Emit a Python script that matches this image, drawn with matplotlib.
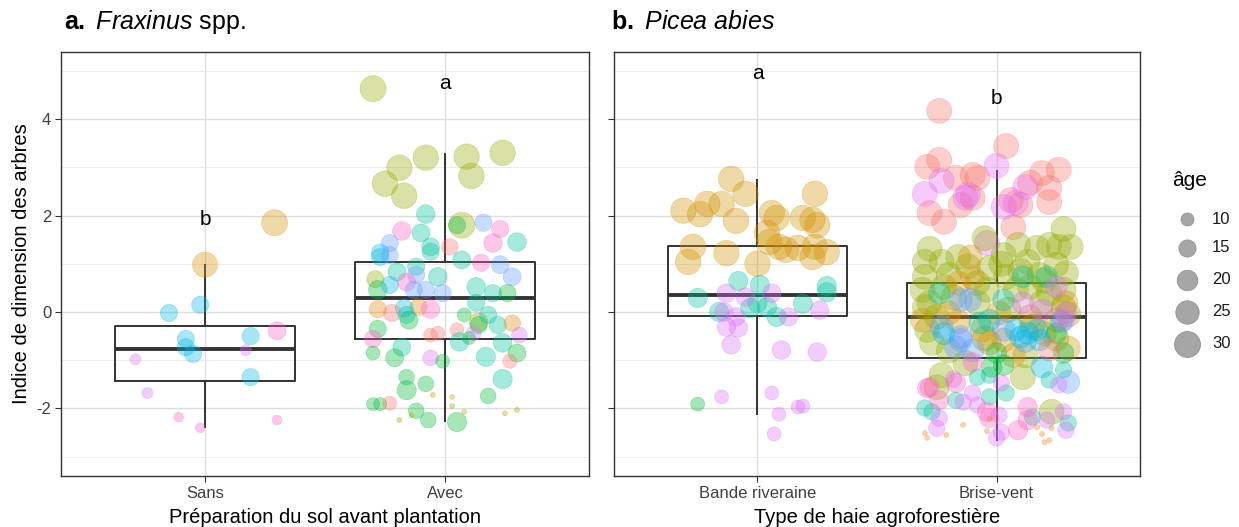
import numpy as np
import matplotlib
matplotlib.use("Agg")
import matplotlib.pyplot as plt

plt.rcParams['font.family'] = ['Liberation Sans', 'DejaVu Sans']
plt.rcParams['mathtext.fontset'] = 'custom'
plt.rcParams['mathtext.rm'] = 'Liberation Sans'
plt.rcParams['mathtext.it'] = 'Liberation Sans:italic'
plt.rcParams['mathtext.bf'] = 'Liberation Sans:bold'

# ---- colours of the groups (ggplot hue palette) ----
colors = {
    'red': '#F8766D', 'orange': '#E68613', 'gold': '#D39200', 'mustard': '#B79F00',
    'olive': '#93AA00', 'green': '#00BA38', 'teal': '#00C19F', 'cyan': '#00B9E3',
    'blue': '#619CFF', 'purple': '#DB72FB', 'magenta': '#E76BF3', 'pink': '#FF61C3',
}

# ---- panel a : Fraxinus spp. ----
cats_a = ['Sans', 'Avec']
sans_dx = [0.29, 0.00, -0.02, -0.15, -0.08, -0.08, -0.05, 0.19, 0.19, 0.30, 0.17, -0.29, -0.24, -0.11, -0.02, 0.30]
sans_y = [1.85, 0.98, 0.15, -0.02, -0.56, -0.73, -0.87, -0.50, -1.35, -0.39, -0.79, -0.98, -1.68, -2.18, -2.40, -2.24]
sans_age = [30, 28, 15, 15, 15, 15, 15, 15, 15, 16, 8, 8, 8, 7, 7, 7]
sans_grp = ['gold', 'gold'] + ['cyan'] * 7 + ['pink', 'purple', 'purple', 'purple', 'pink', 'pink', 'pink']

avec_dx = [-0.30, -0.08, 0.09, 0.24, -0.19, 0.11, -0.25, -0.17, 0.07,
           -0.08, 0.05, 0.16, 0.23, -0.18, -0.10, 0.20, 0.30, -0.23, 0.02, -0.06,
           -0.27, -0.27, -0.23, -0.06, 0.07, 0.15, 0.23, 0.28, -0.20, -0.29,
           -0.12, -0.12, -0.03, -0.16, -0.28, -0.23, -0.13, -0.08, -0.01, 0.13,
           0.20, 0.26, 0.13, -0.28, -0.11, -0.06, -0.17, -0.22, -0.15, -0.16,
           0.08, 0.14, 0.14, 0.18, 0.22, 0.28, -0.28, -0.30, -0.06, -0.03,
           0.05, 0.12, 0.31, 0.06, 0.24, 0.10, -0.18, -0.30, -0.21, -0.06,
           -0.01, 0.17, 0.30, 0.27, -0.16, -0.08, -0.16, 0.24, 0.18, -0.30,
           -0.27, -0.23, -0.12, -0.07, 0.05,
           -0.05, 0.03, 0.03, 0.08, -0.14, -0.19, 0.25, 0.30]
avec_y = [4.63, 3.20, 3.22, 3.30, 2.99, 2.82, 2.66, 2.41, 1.80,
          2.03, 1.80, 1.85, 1.72, 1.68, 1.64, 1.43, 1.45, 1.43, 1.35, 1.35,
          1.22, 1.14, 1.18, 1.25, 1.08, 1.02, 0.98, 0.73, 0.83, 0.68,
          0.94, 0.77, 0.73, 0.62, 0.46, 0.56, 0.46, 0.46, 0.39, 0.52,
          0.39, 0.39, 0.19, 0.06, 0.10, 0.06, 0.08, -0.02, -0.17, -0.06,
          -0.06, -0.21, -0.27, -0.06, -0.27, -0.23, -0.35, -0.56, -0.48, -0.44,
          -0.37, -0.44, -0.48, -0.62, -0.64, -0.54, -0.73, -0.85, -0.95, -0.95,
          -1.02, -0.93, -0.85, -1.02, -1.35, -1.49, -1.62, -1.39, -1.74, -1.91,
          -1.91, -1.89, -2.05, -2.24, -2.28,
          -1.72, -1.76, -1.95, -2.07, -2.14, -2.24, -2.10, -2.03]
avec_age = [30, 29, 29, 29, 29, 29, 29, 29, 30,
            17, 15, 15, 15, 17, 16, 17, 17, 15, 14, 16,
            16, 15, 15, 15, 16, 15, 16, 16, 16, 15,
            15, 15, 17, 16, 17, 15, 15, 15, 15, 17,
            15, 15, 15, 15, 15, 17, 16, 15, 16, 15,
            11, 17, 15, 15, 15, 14, 15, 15, 11, 11,
            11, 12, 13, 17, 17, 10, 16, 11, 16, 13,
            11, 18, 16, 11, 13, 13, 18, 18, 13, 10,
            10, 11, 13, 13, 18,
            4, 4, 4, 4, 4, 4, 4, 4]
avec_grp = ['olive'] * 9 + [
    'teal', 'green', 'blue', 'pink', 'pink', 'teal', 'pink', 'teal', 'blue', 'red', 'teal',
    'cyan', 'cyan', 'blue', 'teal', 'teal', 'pink', 'blue', 'blue', 'teal', 'olive',
    'teal', 'blue', 'teal', 'pink', 'green', 'cyan', 'blue', 'blue', 'blue', 'teal',
    'teal', 'green', 'teal', 'orange', 'orange', 'pink', 'cyan', 'red', 'green', 'teal',
    'green', 'olive', 'green', 'teal', 'teal', 'orange', 'green', 'pink', 'red', 'red',
    'red', 'purple', 'purple', 'teal', 'teal', 'green', 'teal', 'green', 'green', 'purple',
    'green', 'teal', 'green', 'red', 'green', 'green', 'green', 'teal', 'green', 'green',
    'green', 'red', 'green', 'green', 'green'] + ['mustard'] * 8

# ---- panel b : Picea abies ----
cats_b = ['Bande riveraine', 'Brise-vent']
bande_dx = [-0.11, -0.05, -0.21, -0.15, -0.31, -0.24, -0.09, 0.24, 0.06, 0.08, 0.19, 0.23, 0.25,
            0.04, -0.27, -0.29, -0.13, 0.00, 0.05, 0.09, 0.17, 0.23, 0.29, 0.24, 0.12,
            -0.08, -0.25, 0.01, 0.29, 0.29, -0.16, 0.00, -0.03, 0.08, 0.19, 0.04,
            -0.13, 0.06, -0.05, -0.14, -0.09, -0.13, -0.08, 0.13, 0.26, -0.11, 0.10, 0.25,
            -0.15, 0.06, 0.09, 0.17, 0.19, 0.07, -0.25]
bande_y = [2.76, 2.45, 2.24, 2.24, 2.10, 2.03, 1.89, 2.45, 2.05, 1.95, 1.95, 1.91, 1.80,
           1.64, 1.35, 1.04, 1.22, 1.00, 1.45, 1.35, 1.33, 1.14, 1.24, 1.35, 1.29,
           0.64, 0.29, 0.56, 0.54, 0.41, 0.00, 0.19, 0.08, -0.10, 0.17, 0.10,
           0.39, 0.39, 0.31, 0.00, -0.10, -0.31, -0.33, -0.10, 0.04, -0.68, -0.79, -0.83,
           -1.76, -1.68, -2.12, -1.97, -1.95, -2.53, -1.91]
bande_age = [29] * 25 + [18] * 11 + [17] * 12 + [11] * 6 + [11]
bande_grp = ['gold'] * 25 + ['teal'] * 11 + ['purple'] * 12 + ['purple'] * 6 + ['green']

brise_dx = [
    # red / magenta upper cloud
    -0.24, 0.04, -0.29, -0.24, -0.17, -0.10, -0.08, 0.19, 0.26, 0.14, 0.22, 0.22, -0.28, -0.22,
    -0.15, -0.10, 0.06, 0.10, 0.07,
    0.00, -0.30, -0.23, -0.12, 0.12, 0.03, 0.08, -0.13, -0.04,
    # olive
    0.28, 0.31, 0.26, -0.28, -0.05, 0.09, 0.17, 0.22, 0.03, -0.16, -0.23, -0.30, 0.13, 0.25,
    0.29, -0.03, -0.30, -0.20, 0.18, 0.04, -0.31, -0.22, 0.14, 0.28, -0.04, 0.08, 0.22, -0.28,
    -0.08, 0.19, -0.29, -0.27, -0.13, -0.23, 0.11, -0.25, 0.23,
    -0.12, 0.10, -0.18, 0.05, 0.28, -0.25, 0.15, -0.05, 0.25, -0.20, 0.12, 0.02, -0.08, 0.20,
    0.30, -0.30,
    # gold
    -0.11, -0.10, -0.16, 0.29, -0.31, -0.20, 0.01, 0.14, 0.25, -0.06, -0.03, 0.03, 0.30, 0.07,
    -0.16, 0.20,
    # teal
    0.11, 0.21, -0.24, 0.03, -0.07, -0.03, -0.08, -0.03, 0.28, 0.22, 0.04, -0.17, -0.03, -0.30,
    -0.27, 0.15, 0.30,
    # green
    0.00, 0.03, 0.28, 0.25, -0.02,
    # blue
    -0.15, -0.11, -0.23, -0.15, 0.03, -0.15, -0.17, -0.10, 0.12, 0.30,
    # cyan
    0.08, 0.17, 0.10, 0.18, 0.19, 0.13, -0.22, 0.27,
    # purple
    0.25, 0.29, 0.19, 0.11, 0.28,
    0.26, -0.18, 0.02, -0.10, -0.14, -0.08, 0.01, 0.28, 0.29, -0.24, -0.25, 0.02, 0.00, 0.21,
    # pink lower
    -0.10, -0.28, -0.17, -0.24, -0.04, 0.13, -0.03, 0.09, 0.13, -0.29,
    # red lower
    0.22,
    # orange tiny
    -0.30, -0.29, -0.21, -0.14, -0.04, -0.03, 0.17, 0.19, 0.20, 0.22, 0.23]
brise_y = [
    4.17, 3.44, 3.01, 3.15, 2.78, 2.84, 2.78, 2.88, 2.95, 2.68, 2.57, 2.28, 2.05, 1.87,
    2.22, 2.37, 2.32, 2.22, 1.76,
    3.03, 2.45, 2.72, 2.43, 2.59, 2.18, 2.26, 2.37, 1.43,
    1.72, 1.35, 1.35, 1.31, 1.53, 1.39, 1.33, 1.39, 1.18, 1.14, 1.04, 1.04, 1.04, 0.98,
    0.81, 0.91, 0.73, 0.77, 0.77, 0.73, 0.46, 0.52, 0.52, 0.46, 0.46, 0.46, 0.39, 0.19,
    0.19, 0.19, -0.37, -0.64, -1.06, -1.31, -1.35, -1.56, -2.07,
    0.95, 0.85, 0.30, 0.05, 0.10, -0.10, -0.30, -0.55, -0.55, -0.80, -0.90, 1.00, 0.60, 0.65,
    -0.05, 0.10,
    1.14, 0.71, 0.60, 0.19, -0.17, -0.02, -0.02, -0.10, -0.17, -0.37, -0.64, -0.58, -0.75, -0.90,
    -0.20, -0.45,
    0.73, 0.73, 0.39, 0.25, -0.23, -0.17, -1.35, -1.31, -1.20, -1.41, -1.68, -1.83, -1.76, -1.99,
    -2.07, -2.18, -2.30,
    -0.85, -1.10, -0.85, -0.44, -1.14,
    0.25, 0.25, -0.31, -0.52, -0.37, -0.58, -0.73, -0.80, -0.60, -1.45,
    -0.37, -0.37, -0.52, -0.58, -1.14, -0.44, -0.45, -0.20,
    0.52, -0.02, 0.04, 0.19, -0.17,
    -1.51, -1.39, -1.47, -1.68, -1.87, -1.93, -2.14, -2.07, -2.45, -2.20, -2.41, -2.49, -2.61, -2.24,
    -1.04, -1.56, -1.47, -1.83, -2.07, -1.97, -2.20, -2.45, -2.24, -1.58,
    -0.79,
    -2.51, -2.61, -2.55, -2.34, -2.47, -2.22, -2.39, -2.53, -2.70, -2.66, -2.41]
brise_age = ([28] * 19 + [28] * 9 + [28] * 37 + [28] * 16 + [26] * 16
             + [22] * 6 + [14] * 11 + [20] * 5 + [24] * 10 + [22] * 8
             + [22] * 5 + [14] * 14 + [18] * 10 + [22] + [4] * 11)
brise_grp = (['red'] * 19 + ['magenta'] * 9 + ['olive'] * 37 + ['olive'] * 16 + ['gold'] * 16
             + ['teal'] * 17 + ['green'] * 5 + ['blue'] * 10 + ['cyan'] * 8
             + ['purple'] * 19 + ['pink'] * 10 + ['red'] + ['orange'] * 11)

# ---- box statistics (q1, median, q3, whisker low, whisker high) ----
box_a_q1 = [-1.43, -0.56]
box_a_med = [-0.77, 0.29]
box_a_q3 = [-0.29, 1.04]
box_a_lo = [-2.39, -2.26]
box_a_hi = [0.97, 3.28]
box_b_q1 = [-0.08, -0.95]
box_b_med = [0.35, -0.10]
box_b_q3 = [1.37, 0.60]
box_b_lo = [-2.12, -2.66]
box_b_hi = [2.74, 2.93]

# letters of the multiple comparison
letters_a = ['b', 'a']
letters_a_y = [1.91, 4.73]
letters_b = ['a', 'b']
letters_b_y = [4.94, 4.42]

legend_ages = [10, 15, 20, 25, 30]


def size_of(age):
    # area grows linearly with age; diameter in px -> points at 100 dpi
    d_px = np.sqrt(np.maximum(-84.5 + 25.35 * np.asarray(age, dtype=float), 25))
    return d_px * 0.72


W, H = 1239, 527
fig = plt.figure(figsize=(W / 100, H / 100), dpi=100)
ax_a = fig.add_axes([61 / W, (H - 476) / H, 528 / W, 424 / H])
ax_b = fig.add_axes([614 / W, (H - 476) / H, 526 / W, 424 / H])


def draw_panel(ax, cats, groups, q1, med, q3, lo, hi, letters, letters_y):
    stats = []
    for i in range(len(cats)):
        stats.append(dict(q1=q1[i], med=med[i], q3=q3[i], whislo=lo[i], whishi=hi[i]))
    ax.bxp(stats, positions=[1, 2], widths=0.75, showcaps=False, showfliers=False,
           boxprops=dict(color='#333333', linewidth=1.4),
           whiskerprops=dict(color='#333333', linewidth=1.4),
           medianprops=dict(color='#333333', linewidth=2.8), zorder=2)
    for i, (dx, y, age, grp) in enumerate(groups):
        x = i + 1 + np.asarray(dx)
        d = size_of(age)
        c = [colors[g] for g in grp]
        ax.scatter(x, y, s=d ** 2, c=c, alpha=0.35, linewidths=0.5, edgecolors=c, zorder=3)
    for i, (lab, ly) in enumerate(zip(letters, letters_y)):
        ax.text(i + 1, ly, lab, ha='center', va='center', fontsize=15, zorder=4)

    ax.set_xlim(0.4, 2.6)
    ax.set_ylim(-3.40, 5.39)
    ax.set_xticks([1, 2])
    ax.set_xticklabels(cats)
    ax.set_yticks([-2, 0, 2, 4])
    ax.set_yticks([-3, -1, 1, 3, 5], minor=True)
    ax.grid(True, which='major', color='#DDDDDD', linewidth=1.0, zorder=0)
    ax.grid(True, which='minor', axis='y', color='#EBEBEB', linewidth=0.7, zorder=0)
    ax.set_axisbelow(True)
    ax.tick_params(which='major', length=4, width=0.8, color='#333333', labelsize=12,
                   labelcolor='#404040', pad=3)
    ax.tick_params(which='minor', length=0)
    for sp in ax.spines.values():
        sp.set_color('#333333')
        sp.set_linewidth(1.0)


draw_panel(ax_a, cats_a,
           [(sans_dx, sans_y, sans_age, sans_grp), (avec_dx, avec_y, avec_age, avec_grp)],
           box_a_q1, box_a_med, box_a_q3, box_a_lo, box_a_hi, letters_a, letters_a_y)
draw_panel(ax_b, cats_b,
           [(bande_dx, bande_y, bande_age, bande_grp), (brise_dx, brise_y, brise_age, brise_grp)],
           box_b_q1, box_b_med, box_b_q3, box_b_lo, box_b_hi, letters_b, letters_b_y)

ax_a.set_yticklabels(['-2', '0', '2', '4'])
ax_b.set_yticklabels([])
ax_a.set_xlabel('Préparation du sol avant plantation', fontsize=14.5, labelpad=5)
ax_b.set_xlabel('Type de haie agroforestière', fontsize=14.5, labelpad=5)
ax_a.set_ylabel('Indice de dimension des arbres', fontsize=14.5, labelpad=4)

fig.text(64 / W, 1 - 22 / H, r'$\mathbf{a.}$ $\mathit{Fraxinus}$ spp.', fontsize=18,
         ha='left', va='center')
fig.text(611 / W, 1 - 22 / H, r'$\mathbf{b.}$ $\mathit{Picea\ abies}$', fontsize=18,
         ha='left', va='center')

# size legend, drawn in a pixel-space overlay
ax_leg = fig.add_axes([0, 0, 1, 1], facecolor='none')
ax_leg.set_xlim(0, W)
ax_leg.set_ylim(H, 0)
ax_leg.axis('off')
row_y = [219, 248, 280, 312, 344]
ax_leg.text(1172, 181, 'âge', fontsize=15, ha='left', va='center')
for a, ry in zip(legend_ages, row_y):
    ax_leg.scatter([1187], [ry], s=size_of(a) ** 2, color='#A6A6A6', edgecolors='#8C8C8C',
                   linewidths=0.5)
    ax_leg.text(1212, ry, str(a), fontsize=12, ha='left', va='center', color='#1A1A1A')

fig.savefig('out.png', dpi=100)
